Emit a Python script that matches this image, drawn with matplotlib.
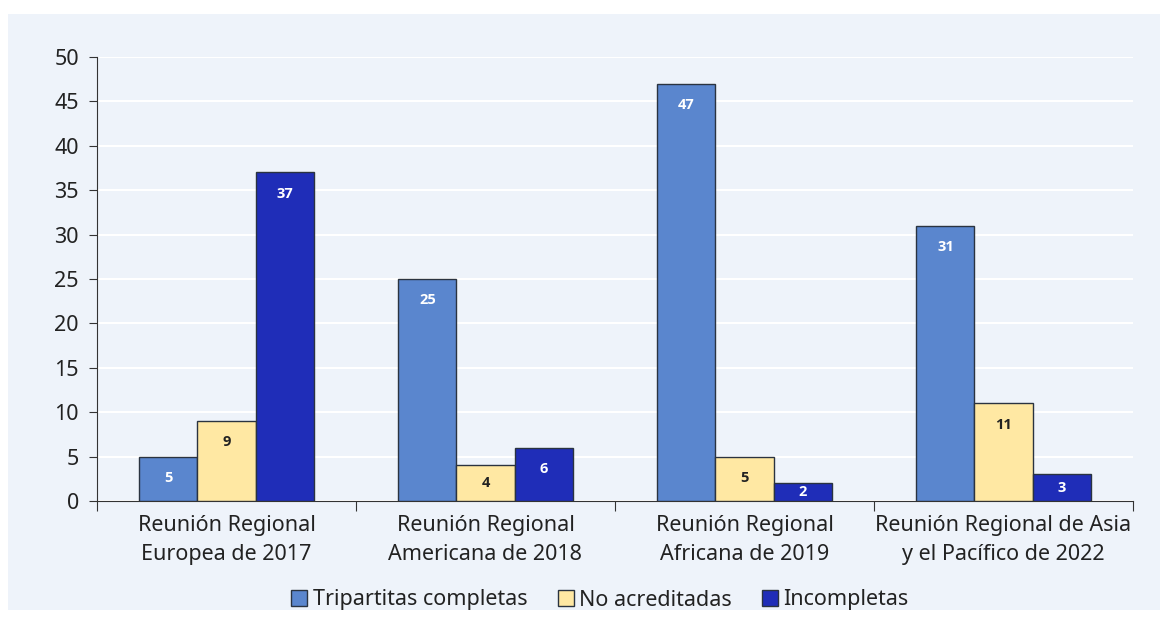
import numpy as np
import matplotlib
matplotlib.use('agg')
import matplotlib.pyplot as plt
from matplotlib.patches import Rectangle

plt.rcParams['font.family'] = ['Noto Sans', 'DejaVu Sans']

categories = ['Reunión Regional\nEuropea de 2017', 'Reunión Regional\nAmericana de 2018',
              'Reunión Regional\nAfricana de 2019', 'Reunión Regional de Asia\ny el Pacífico de 2022']
series_names = ['Tripartitas completas', 'No acreditadas', 'Incompletas']
tripartitas = [5, 25, 47, 31]
no_acreditadas = [9, 4, 5, 11]
incompletas = [37, 6, 2, 3]

colors = ['#5A86CE', '#FFE8A3', '#1F2DB8']
text_colors = ['white', '#222222', 'white']
edge = '#2A3340'
bg = '#EEF3FA'

fig = plt.figure(figsize=(11.68, 6.2), dpi=100)
fig.patch.set_facecolor('white')
fig.patches.append(Rectangle((8/1168, 10/620), 1152/1168, 596/620, transform=fig.transFigure,
                             facecolor=bg, edgecolor='none', zorder=-5))
ax = fig.add_axes([97/1168, 119/620, 1036/1168, 444/620])
ax.set_facecolor(bg)

x = np.arange(len(categories))
w = 0.224
data = [tripartitas, no_acreditadas, incompletas]
for i, vals in enumerate(data):
    xs = x + (i - 1) * w
    ax.bar(xs, vals, w, color=colors[i], edgecolor=edge, linewidth=1.0, label=series_names[i], zorder=3)
    for xi, v in zip(xs, vals):
        ypos = max(v - 2.4, v / 2)
        ax.text(xi, ypos, str(v), ha='center', va='center', fontsize=10.5, fontweight='bold',
                family=['Open Sans', 'DejaVu Sans'], color=text_colors[i], zorder=4)

ax.set_xlim(-0.5, len(categories) - 0.5)
ax.set_ylim(0, 50)
ax.set_yticks(np.arange(0, 51, 5))
ax.yaxis.grid(True, color='white', linewidth=1.5, zorder=0)
ax.set_axisbelow(True)
for s in ['top', 'right']:
    ax.spines[s].set_visible(False)
ax.spines['left'].set_color('#333333')
ax.spines['bottom'].set_color('#333333')
ax.tick_params(axis='y', labelsize=15.5, colors='#333333', length=6, pad=7, labelcolor='#222222')
ax.set_xticks(np.arange(-0.5, len(categories)), minor=False)
ax.set_xticklabels([''] * (len(categories) + 1))
ax.tick_params(axis='x', length=7, color='#333333')
ax.set_xticks(x, minor=True)
ax.set_xticklabels(categories, minor=True, fontsize=15.5, color='#222222', linespacing=1.5)
ax.tick_params(axis='x', which='minor', length=0, pad=10)

leg = fig.legend(loc='center', bbox_to_anchor=(600/1168, 20/620), ncol=3, frameon=False,
                 fontsize=15.5, handlelength=0.75, handleheight=0.75, handletextpad=0.25,
                 columnspacing=1.4)
for t in leg.get_texts():
    t.set_color('#222222')

fig.savefig('out.png', dpi=100, facecolor='white')
